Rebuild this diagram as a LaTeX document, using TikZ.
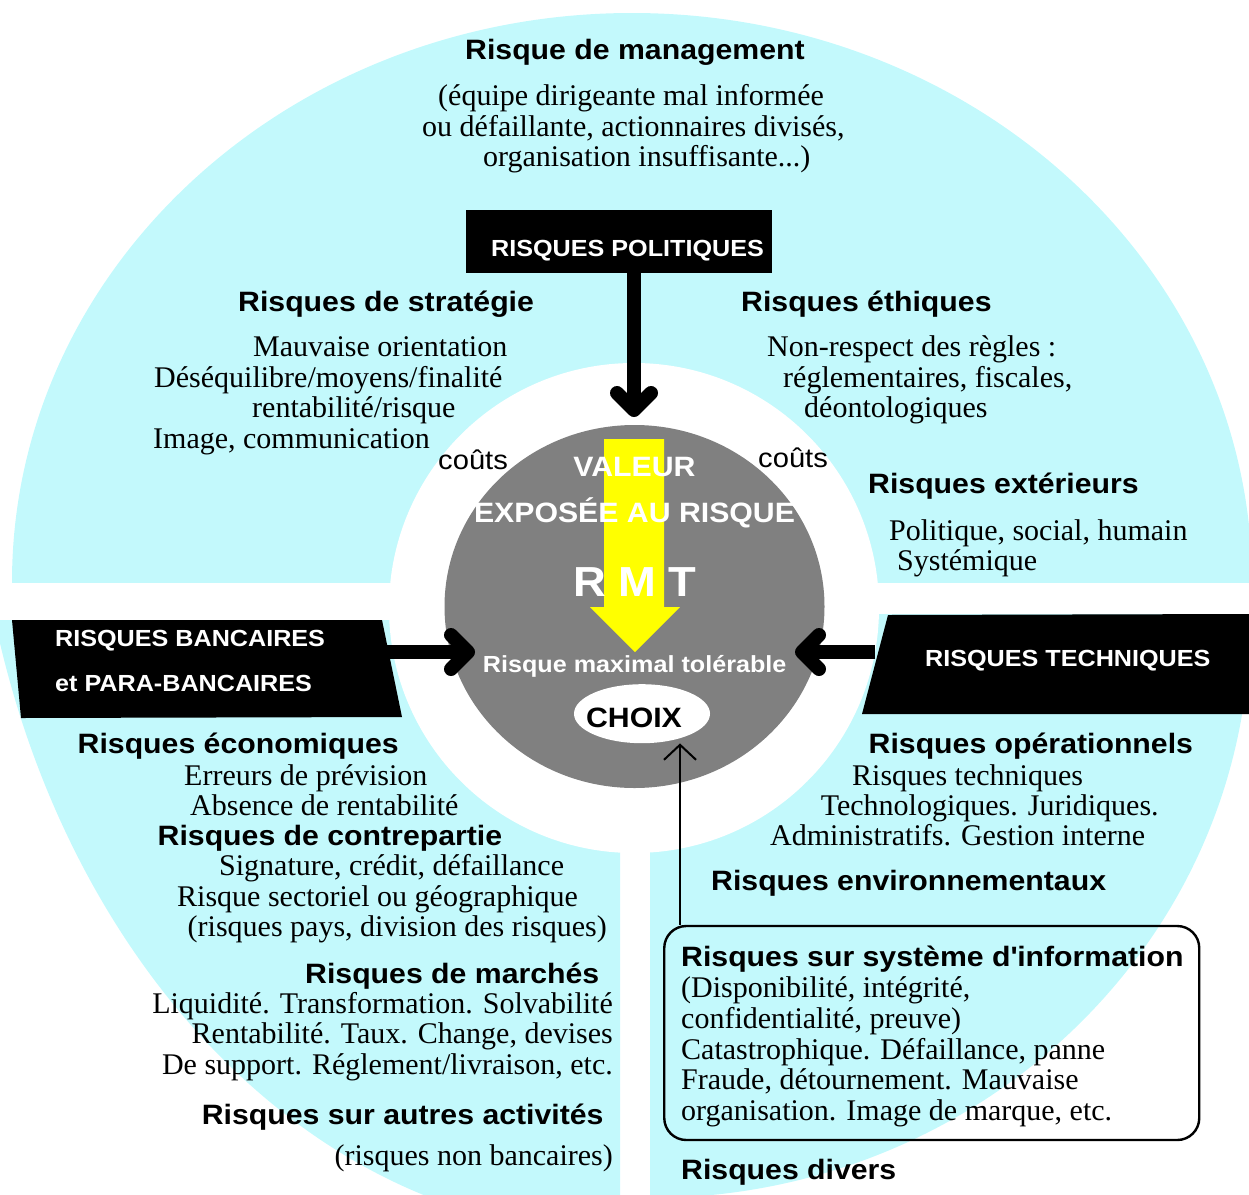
\documentclass[tikz,border=0pt]{standalone}
\usepackage{fontspec}
\setmainfont{Liberation Serif}
\setsansfont{Liberation Sans}[FakeStretch=1.08]
\usepackage{tikz}
\usetikzlibrary{arrows.meta, shapes.geometric}
\usepackage{xcolor}
\definecolor{ciel}{HTML}{C3F9FC}
\definecolor{gris}{HTML}{808080}
\definecolor{jaune}{HTML}{FFFF00}

\begin{document}
\begin{tikzpicture}[x=1pt, y=-1pt,
  titre/.style={font=\sffamily\bfseries\fontsize{28}{30}\selectfont, anchor=base west, inner sep=0pt},
  texte/.style={font=\fontsize{30}{30}\selectfont, anchor=base west, inner sep=0pt},
  boite/.style={font=\sffamily\bfseries\fontsize{23.3}{25}\selectfont, text=white, anchor=base west, inner sep=0pt},
  centre/.style={font=\sffamily\bfseries\fontsize{28}{30}\selectfont, text=white, anchor=base, inner sep=0pt},
  cout/.style={font=\sffamily\fontsize{27}{29}\selectfont, anchor=base west, inner sep=0pt},
  grosse/.style={line width=14pt, -{Straight Barb[length=17pt, width=34pt, round]}},
  fine/.style={line width=2pt, -{Straight Barb[length=15pt, width=32pt]}}]
  \useasboundingbox (0,0) rectangle (1249,1194);

  % Fond
  \begin{scope}
    \clip (0,0) rectangle (1249,582);
    \fill[ciel] (632,582) ellipse [x radius=620pt, y radius=569pt];
  \end{scope}
  \begin{scope}
    \clip (0,620) rectangle (620,1194);
    \fill[ciel] (620,400) ellipse [x radius=648pt, y radius=834pt];
  \end{scope}
  \begin{scope}
    \clip (650,614) rectangle (1249,1194);
    \fill[ciel] (650,620) ellipse [x radius=600pt, y radius=578pt];
  \end{scope}
  \fill[white] (634,608) circle [radius=245pt];

  % Nodes
  \node[ellipse, fill=gris, minimum width=380, minimum height=363, inner sep=0pt] (coeur) at (634.5,606.5) {};
  \fill[jaune] (604,439) -- (664,439) -- (664,607) -- (680,607) -- (635,652) -- (590,607) -- (604,607) -- cycle;
  \node[fill=black, minimum width=306, minimum height=63, inner sep=0pt] (polit) at (619,241.5) {};
  \fill (12,620) -- (382,620) -- (402,717) -- (21,718) -- cycle;
  \fill (888,615) -- (1249,614) -- (1249,714) -- (862,714) -- cycle;
  \node[ellipse, fill=white, minimum width=136, minimum height=59, inner sep=0pt] (choix) at (642,713.7) {};
  \node[draw, line width=2.4pt, rounded corners=22pt, minimum width=535, minimum height=214, inner sep=0pt] (sysinfo) at (931.75,1033) {};

  \coordinate (tipN) at (634,417);
  \coordinate (tipW) at (475,652);
  \coordinate (tipE) at (795,652);
  \coordinate (fromW) at (385,652);
  \coordinate (fromE) at (875,652);
  \coordinate (infotop) at (680,926);

  % Arrows
  \draw[grosse] (polit.south -| tipN) -- (tipN);
  \draw[grosse] (fromW) -- (tipW);
  \draw[grosse] (fromE) -- (tipE);
  \draw[fine] (sysinfo.north -| infotop) -- (choix.south -| infotop);

  % Textes du haut
  \node[titre] (mgmt) at (465,59) {Risque de management};
  \node[texte] (mgmt1) at (438,105.5) {(équipe dirigeante mal informée};
  \node[texte] (mgmt2) at (422,136) {ou défaillante, actionnaires divisés,};
  \node[texte] (mgmt3) at (483,166) {organisation insuffisante...)};
  \node[boite] (politxt) at (491,256.3) {RISQUES POLITIQUES};

  \node[titre] (strat) at (238,311.7) {Risques de stratégie};
  \node[texte] (strat1) at (253,356.5) {Mauvaise orientation};
  \node[texte] (strat2) at (154,387.5) {Déséquilibre/moyens/finalité};
  \node[texte] (strat3) at (252,417.5) {rentabilité/risque};
  \node[texte] (strat4) at (153,448) {Image, communication};

  \node[titre] (ethi) at (741,311.7) {Risques éthiques};
  \node[texte] (ethi1) at (767,356.5) {Non-respect des règles :};
  \node[texte] (ethi2) at (783,387) {réglementaires, fiscales,};
  \node[texte] (ethi3) at (804,417.5) {déontologiques};

  \node[titre] (ext) at (868,493.3) {Risques extérieurs};
  \node[texte] (ext1) at (889,540) {Politique, social, humain};
  \node[texte] (ext2) at (897,570) {Systémique};

  \node[cout] (cout1) at (438,469) {coûts};
  \node[cout] (cout2) at (758,467) {coûts};

  % Centre
  \node[centre] (valeur) at (634.5,476.7) {VALEUR};
  \node[centre] (expo) at (634.5,522.7) {EXPOSÉE AU RISQUE};
  \node[centre, font=\sffamily\bfseries\fontsize{42}{44}\selectfont] (rmt) at (635,596.7) {R M T};
  \node[centre, font=\sffamily\bfseries\fontsize{23.3}{25}\selectfont] (rmtx) at (634.7,672.5) {Risque maximal tolérable};
  \node[centre, text=black] (choixtxt) at (634,727.5) {CHOIX};

  % Bancaires
  \node[boite] (banc1) at (55,646.7) {RISQUES BANCAIRES};
  \node[boite] (banc2) at (55,691.7) {et PARA-BANCAIRES};
  \node[titre] (eco) at (77.5,753.8) {Risques économiques};
  \node[texte] (eco1) at (184,785.5) {Erreurs de prévision};
  \node[texte] (eco2) at (190,815.5) {Absence de rentabilité};
  \node[titre] (contre) at (157.5,845) {Risques de contrepartie};
  \node[texte] (contre1) at (219,875.5) {Signature, crédit, défaillance};
  \node[texte] (contre2) at (177,906) {Risque sectoriel ou géographique};
  \node[texte] (contre3) at (187.5,936.5) {(risques pays, division des risques)};
  \node[titre] (march) at (305,983) {Risques de marchés};
  \node[texte, anchor=base east] (march1) at (613,1013.5) {Liquidité. Transformation. Solvabilité};
  \node[texte, anchor=base east] (march2) at (613,1043.5) {Rentabilité. Taux. Change, devises};
  \node[texte, anchor=base east] (march3) at (613,1074) {De support. Réglement/livraison, etc.};
  \node[titre] (autres) at (201.7,1124.5) {Risques sur autres activités};
  \node[texte, anchor=base east] (autres1) at (613,1165) {(risques non bancaires)};

  % Techniques
  \node[boite] (techn) at (925,666.7) {RISQUES TECHNIQUES};
  \node[titre] (oper) at (868.5,753.5) {Risques opérationnels};
  \node[texte] (oper1) at (852,785) {Risques techniques};
  \node[texte] (oper2) at (820.6,815.5) {Technologiques. Juridiques.};
  \node[texte] (oper3) at (770,845.5) {Administratifs. Gestion interne};
  \node[titre] (envir) at (711,890.5) {Risques environnementaux};
  \node[titre] (si) at (681,966) {Risques sur système d\textquotesingle information};
  \node[texte] (si1) at (681,997) {(Disponibilité, intégrité,};
  \node[texte] (si2) at (681,1028) {confidentialité, preuve)};
  \node[texte] (si3) at (681,1059) {Catastrophique. Défaillance, panne};
  \node[texte] (si4) at (681,1089.5) {Fraude, détournement. Mauvaise};
  \node[texte] (si5) at (681,1120.5) {organisation. Image de marque, etc.};
  \node[titre] (divers) at (681,1179.5) {Risques divers};
\end{tikzpicture}
\end{document}
